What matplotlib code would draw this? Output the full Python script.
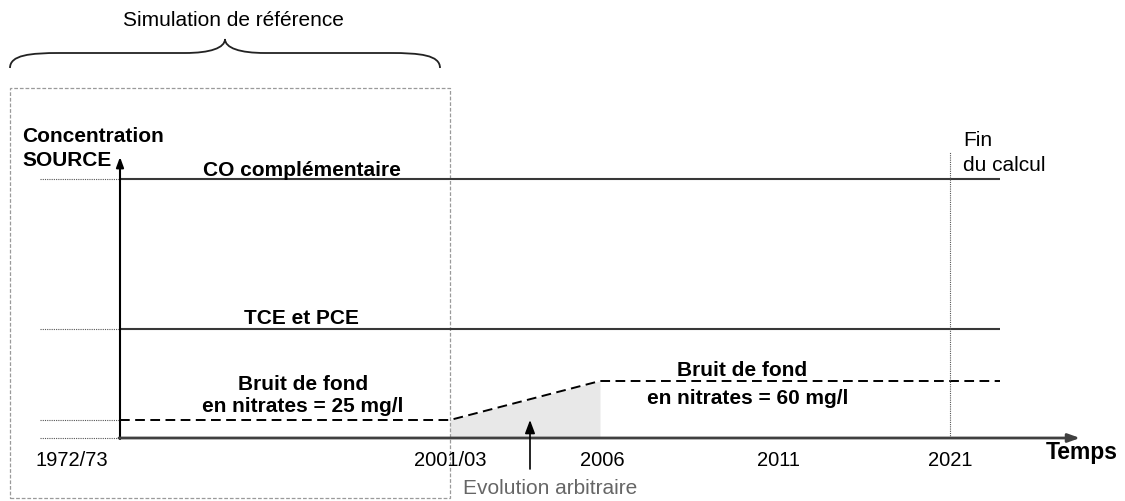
import matplotlib
matplotlib.use("Agg")
import matplotlib.pyplot as plt
from matplotlib.path import Path
from matplotlib.patches import PathPatch, Rectangle

plt.rcParams['font.family'] = ['Liberation Sans', 'DejaVu Sans']

# Schematic time axis: label text and position along the axis (origin = 0)
period_labels = ["1972/73", "2001/03", "2006", "2011", "2021"]
period_pos = [0, 330, 482, 659, 830]
axis_end = 880          # end of the drawn series

# Source concentration levels (schematic units)
co_level = 259
tce_level = 109
nitrate_x = [0, 330, 480, 880]
nitrate_y = [18, 18, 57, 57]

fig = plt.figure(figsize=(11.25, 5.01), dpi=100)
ax = fig.add_axes([0, 0, 1, 1])
ax.set_xlim(-120, 1005)
ax.set_ylim(-63, 438)
ax.axis('off')

dark = '#383838'
dotted = (0, (1, 1))

# Axes with arrow heads
ax.annotate('', xy=(0, 281), xytext=(0, -1),
            arrowprops=dict(arrowstyle='-|>,head_length=0.6,head_width=0.22',
                            color='black', lw=1.5, shrinkA=0, shrinkB=0))
ax.annotate('', xy=(960, 0), xytext=(-1, 0),
            arrowprops=dict(arrowstyle='-|>,head_length=0.7,head_width=0.25',
                            color='#404040', lw=2, shrinkA=0, shrinkB=0))

# Concentration series
ax.plot([0, axis_end], [co_level, co_level], color=dark, lw=1.5, solid_capstyle='butt')
ax.plot([0, axis_end], [tce_level, tce_level], color=dark, lw=1.5, solid_capstyle='butt')
ax.fill_between(nitrate_x[1:3], [0, 0], nitrate_y[1:3], color='#e8e8e8', lw=0, zorder=0)
ax.plot(nitrate_x, nitrate_y, color='black', lw=1.4, dashes=(5, 2.8))

# Dotted guides to the left of the vertical axis
for lvl in [co_level, tce_level, nitrate_y[0], 0]:
    ax.plot([-80, 0], [lvl, lvl], color='#555555', lw=0.8, linestyle=dotted)

# End of calculation marker
ax.plot([period_pos[-1], period_pos[-1]], [0, 286], color='#555555', lw=0.8,
        linestyle=dotted)
ax.text(843, 298, "Fin", fontsize=15, ha='left', va='center')
ax.text(843, 273, "du calcul", fontsize=15, ha='left', va='center')

# Period labels
ax.text(period_pos[0] - 12, -22, period_labels[0], fontsize=14.5, ha='right', va='center')
for lab, x in zip(period_labels[1:], period_pos[1:]):
    ax.text(x, -22, lab, fontsize=14.5, ha='center', va='center')

ax.text(962, -14, "Temps", fontsize=16.5, fontweight='bold', ha='center', va='center')
ax.text(-98, 289.5, "Concentration\nSOURCE", fontsize=15, fontweight='bold',
        ha='left', va='center', linespacing=1.28)

# Series labels
ax.text(182, 268, "CO complémentaire", fontsize=15, fontweight='bold', ha='center', va='center')
ax.text(181, 120, "TCE et PCE", fontsize=15, fontweight='bold', ha='center', va='center')
ax.text(183, 42.5, "Bruit de fond\nen nitrates = 25 mg/l", fontsize=15, fontweight='bold',
        ha='center', va='center', linespacing=1.25)
ax.text(622, 68, "Bruit de fond", fontsize=15, fontweight='bold', ha='center', va='center')
ax.text(628, 40, "en nitrates = 60 mg/l", fontsize=15, fontweight='bold',
        ha='center', va='center')

# Arbitrary evolution pointer
ax.annotate('', xy=(410, 18), xytext=(410, -31),
            arrowprops=dict(arrowstyle='-|>,head_length=0.8,head_width=0.3',
                            color='black', lw=1.2, shrinkA=0, shrinkB=0))
ax.text(430, -50, "Evolution arbitraire", fontsize=15, color='#666666',
        ha='center', va='center')

# Reference simulation frame and brace
ax.add_patch(Rectangle((-110, -60), 440, 410, fill=False, edgecolor='#9a9a9a',
                       lw=0.9, linestyle=(0, (3, 1.5))))
verts = [(-110, 370), (-110, 383), (-90, 385), (-60, 385),
         (65, 385),
         (90, 385), (105, 390), (105, 399),
         (105, 390), (120, 385), (145, 385),
         (270, 385),
         (300, 385), (320, 383), (320, 370)]
codes = [Path.MOVETO, Path.CURVE4, Path.CURVE4, Path.CURVE4,
         Path.LINETO,
         Path.CURVE4, Path.CURVE4, Path.CURVE4,
         Path.CURVE4, Path.CURVE4, Path.CURVE4,
         Path.LINETO,
         Path.CURVE4, Path.CURVE4, Path.CURVE4]
ax.add_patch(PathPatch(Path(verts, codes), fill=False, edgecolor='#222222', lw=1.3))
ax.text(113, 418, "Simulation de référence", fontsize=15, ha='center', va='center')

fig.savefig("out.png", dpi=100)
